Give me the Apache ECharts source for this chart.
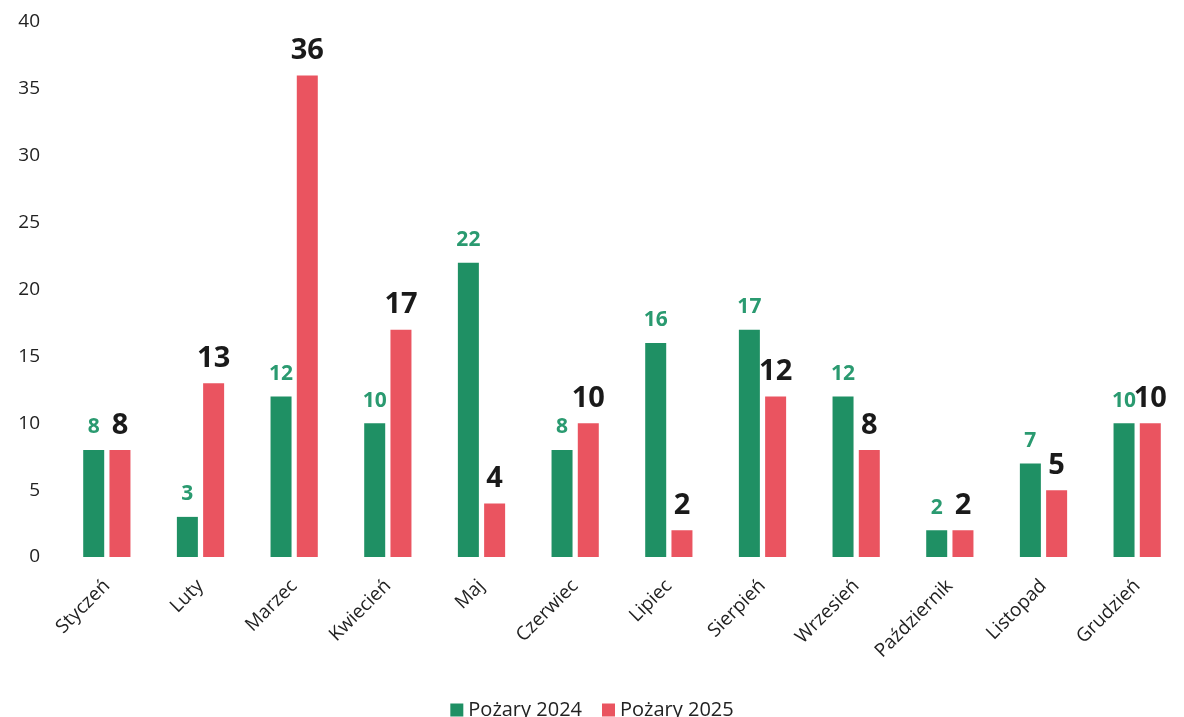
<!DOCTYPE html>
<html>
<head>
<meta charset="utf-8">
<script src="https://cdn.jsdelivr.net/npm/echarts@6/dist/echarts.min.js"></script>
<style>
  html, body { margin: 0; padding: 0; background: #fff; }
  #chart { width: 1184px; height: 717px; }
</style>
</head>
<body>
<div id="chart"></div>
<script>
// miesiące i dane
const months = ['Styczeń', 'Luty', 'Marzec', 'Kwiecień', 'Maj', 'Czerwiec', 'Lipiec', 'Sierpień', 'Wrzesień', 'Październik', 'Listopad', 'Grudzień'];
const fires2024 = [8, 3, 12, 10, 22, 8, 16, 17, 12, 2, 7, 10];
const fires2025 = [8, 13, 36, 17, 4, 10, 2, 12, 8, 2, 5, 10];

document.addEventListener('DOMContentLoaded', function() {
    const chart = echarts.init(document.getElementById('chart'));
    const font = '"Open Sans", "Noto Sans", sans-serif';

    const option = {
        animation: false,
        textStyle: { fontFamily: font },
        legend: {
            data: ['Pożary 2024', 'Pożary 2025'],
            bottom: -8,
            left: 'center',
            itemWidth: 13,
            itemHeight: 13,
            itemGap: 20,
            icon: 'rect',
            textStyle: { fontSize: 20, color: '#222', fontFamily: font }
        },
        grid: {
            left: 60,
            right: 0,
            top: 22,
            bottom: 160
        },
        xAxis: {
            type: 'category',
            data: months,
            axisLine: { show: false },
            axisTick: { show: false },
            axisLabel: {
                rotate: 45,
                fontSize: 19,
                color: '#222',
                margin: 26,
                interval: 0
            }
        },
        yAxis: {
            type: 'value',
            min: 0,
            max: 40,
            interval: 5,
            splitLine: { show: false },
            axisLine: { show: false },
            axisTick: { show: false },
            axisLabel: {
                fontSize: 19,
                color: '#222',
                margin: 20,
                align: 'right'
            }
        },
        series: [
            {
                name: 'Pożary 2024',
                type: 'bar',
                data: fires2024,
                barWidth: 21,
                barGap: '25%',
                itemStyle: { color: '#1f9064' },
                label: {
                    show: true,
                    position: 'top',
                    distance: 12,
                    fontSize: 21,
                    fontWeight: 'bold',
                    color: '#2a9a70'
                }
            },
            {
                name: 'Pożary 2025',
                type: 'bar',
                data: fires2025,
                barWidth: 21,
                itemStyle: { color: '#ea5460' },
                label: {
                    show: true,
                    position: 'top',
                    distance: 10,
                    fontSize: 29,
                    fontWeight: 'bold',
                    color: '#1a1a1a'
                }
            }
        ]
    };

    chart.setOption(option);
    window.addEventListener('resize', function() {
        chart.resize();
    });
});
</script>
</body>
</html>
